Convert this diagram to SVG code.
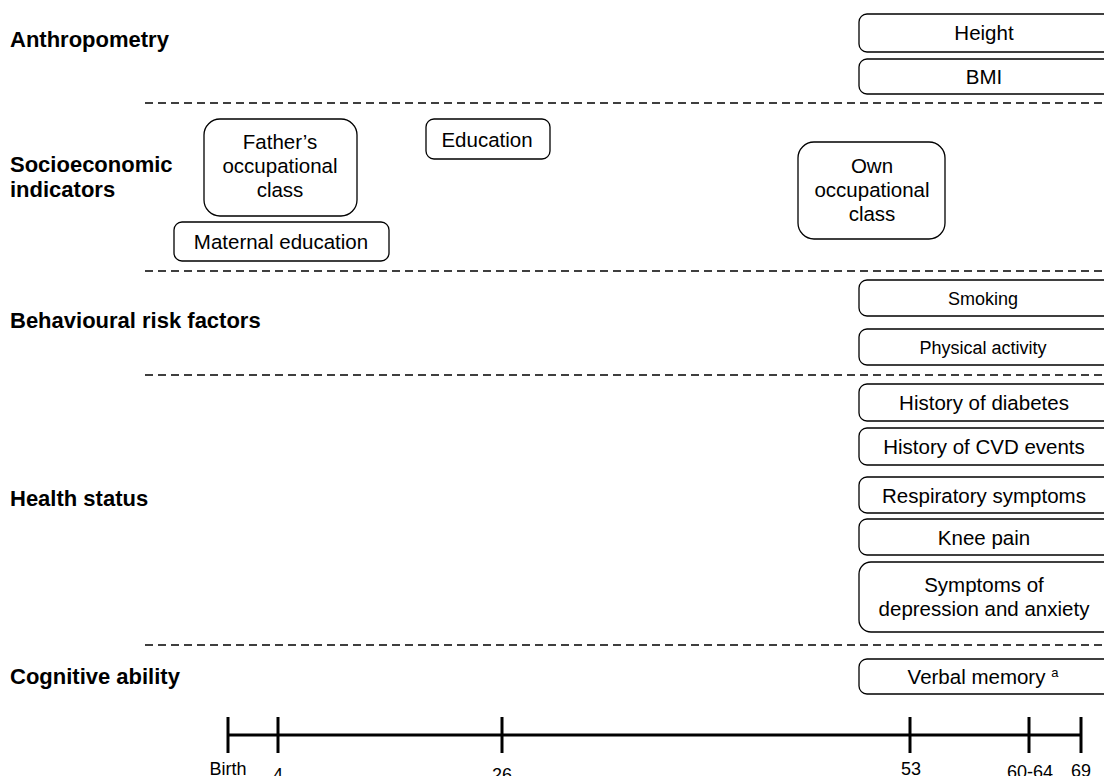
<svg xmlns="http://www.w3.org/2000/svg" width="1104" height="776" viewBox="0 0 1104 776">
  <style>
    .hdr { font-family: "Liberation Sans", Arial, sans-serif; font-weight: bold; font-size: 22px; fill: #000; }
    .lbl { font-family: "Liberation Sans", Arial, sans-serif; font-size: 20.5px; fill: #000; text-anchor: middle; }
    .sm { font-size: 18px; }
    .box { fill: #fff; stroke: #000; stroke-width: 1.3; }
    .sep { stroke: #000; stroke-width: 1.5; stroke-dasharray: 8 5; fill: none; }
    .axis { stroke: #000; stroke-width: 3; fill: none; }
    .tick { font-family: "Liberation Sans", Arial, sans-serif; font-size: 18px; fill: #000; text-anchor: middle; }
  </style>

  <rect width="1104" height="776" fill="#fff"/>

  <!-- domain headings -->
  <g id="headings">
    <text class="hdr" x="10" y="47">Anthropometry</text>
    <text class="hdr" x="10" y="172">Socioeconomic</text>
    <text class="hdr" x="10" y="197">indicators</text>
    <text class="hdr" x="10" y="328">Behavioural risk factors</text>
    <text class="hdr" x="10" y="506">Health status</text>
    <text class="hdr" x="10" y="684">Cognitive ability</text>
  </g>

  <!-- dashed separators between domains -->
  <g id="separators">
    <line class="sep" x1="145" y1="103" x2="1104" y2="103"/>
    <line class="sep" x1="145" y1="271" x2="1104" y2="271"/>
    <line class="sep" x1="145" y1="375" x2="1104" y2="375"/>
    <line class="sep" x1="145" y1="645" x2="1104" y2="645"/>
  </g>

  <!-- anthropometry -->
  <g id="height">
    <rect class="box" x="859" y="14" width="260" height="38" rx="8"/>
    <text class="lbl" x="984" y="40">Height</text>
  </g>
  <g id="bmi">
    <rect class="box" x="859" y="59" width="260" height="35" rx="8"/>
    <text class="lbl" x="984" y="84">BMI</text>
  </g>

  <!-- socioeconomic indicators -->
  <g id="fathers-class">
    <rect class="box" x="204" y="119" width="153" height="97" rx="16"/>
    <text class="lbl" x="280" y="149">Father’s</text>
    <text class="lbl" x="280" y="173">occupational</text>
    <text class="lbl" x="280" y="197">class</text>
  </g>
  <g id="education">
    <rect class="box" x="426" y="119" width="124" height="40" rx="8"/>
    <text class="lbl" x="487" y="146.5">Education</text>
  </g>
  <g id="maternal-education">
    <rect class="box" x="174" y="222" width="215" height="39" rx="8"/>
    <text class="lbl" x="281" y="249">Maternal education</text>
  </g>
  <g id="own-class">
    <rect class="box" x="798" y="142" width="147" height="97" rx="16"/>
    <text class="lbl" x="872" y="173">Own</text>
    <text class="lbl" x="872" y="197">occupational</text>
    <text class="lbl" x="872" y="221">class</text>
  </g>

  <!-- behavioural risk factors -->
  <g id="smoking">
    <rect class="box" x="859" y="280" width="260" height="36" rx="8"/>
    <text class="lbl sm" x="983" y="304.5">Smoking</text>
  </g>
  <g id="physical-activity">
    <rect class="box" x="859" y="329" width="260" height="36" rx="8"/>
    <text class="lbl sm" x="983" y="353.5">Physical activity</text>
  </g>

  <!-- health status -->
  <g id="diabetes">
    <rect class="box" x="859" y="384" width="260" height="37" rx="8"/>
    <text class="lbl" x="984" y="410">History of diabetes</text>
  </g>
  <g id="cvd">
    <rect class="box" x="859" y="428" width="260" height="37" rx="8"/>
    <text class="lbl" x="984" y="454">History of CVD events</text>
  </g>
  <g id="respiratory">
    <rect class="box" x="859" y="477" width="260" height="36" rx="8"/>
    <text class="lbl" x="984" y="502.5">Respiratory symptoms</text>
  </g>
  <g id="knee-pain">
    <rect class="box" x="859" y="519" width="260" height="36" rx="8"/>
    <text class="lbl" x="984" y="544.5">Knee pain</text>
  </g>
  <g id="depression-anxiety">
    <rect class="box" x="859" y="562" width="260" height="70" rx="12"/>
    <text class="lbl" x="984" y="592">Symptoms of</text>
    <text class="lbl" x="984" y="616">depression and anxiety</text>
  </g>

  <!-- cognitive ability -->
  <g id="verbal-memory">
    <rect class="box" x="859" y="659" width="260" height="35" rx="8"/>
    <text class="lbl" x="983" y="684">Verbal memory <tspan font-size="13" dy="-7">a</tspan></text>
  </g>

  <!-- age timeline -->
  <g id="timeline">
    <line class="axis" x1="228" y1="735" x2="1081" y2="735"/>
    <line class="axis" x1="228" y1="717" x2="228" y2="753"/>
    <line class="axis" x1="278" y1="717" x2="278" y2="753"/>
    <line class="axis" x1="502" y1="717" x2="502" y2="753"/>
    <line class="axis" x1="910" y1="717" x2="910" y2="753"/>
    <line class="axis" x1="1029" y1="717" x2="1029" y2="753"/>
    <line class="axis" x1="1081" y1="717" x2="1081" y2="753"/>
    <text class="tick" x="228" y="775">Birth</text>
    <text class="tick" x="278" y="781">4</text>
    <text class="tick" x="502" y="781">26</text>
    <text class="tick" x="911" y="775">53</text>
    <text class="tick" x="1030" y="778">60-64</text>
    <text class="tick" x="1081" y="777">69</text>
  </g>
</svg>
